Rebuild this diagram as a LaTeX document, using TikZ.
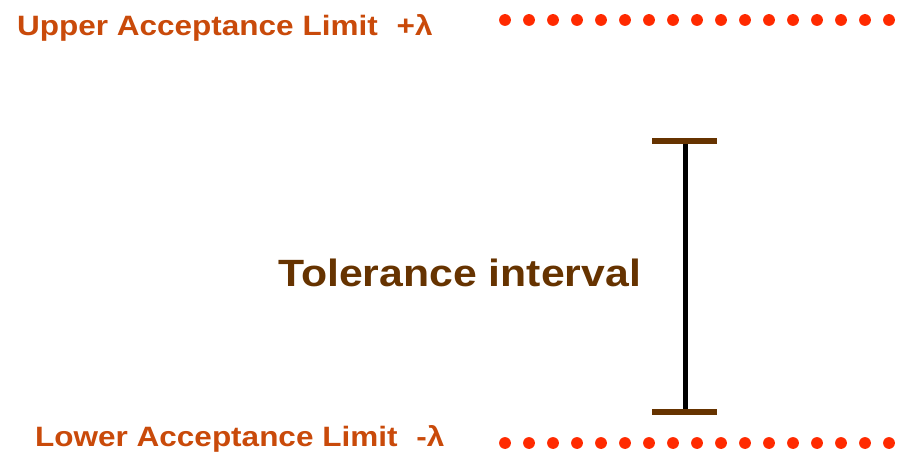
\documentclass[tikz,border=0pt]{standalone}
\usepackage{fontspec}
\setmainfont{Liberation Sans}
\definecolor{limittext}{HTML}{C94A0A}
\definecolor{dotred}{HTML}{FF2A00}
\definecolor{barbrown}{HTML}{663300}
\tikzset{
  widetext/.style={xscale=1.125, transform shape},
  limitlabel/.style={widetext, anchor=base west, inner sep=0pt, text=limittext, font=\bfseries\fontsize{28}{28}\selectfont},
  limitdot/.style={fill=dotred, draw=none},
  capbar/.style={draw=barbrown, line width=6pt},
  stem/.style={draw=black, line width=5pt}
}
\begin{document}
\begin{tikzpicture}[x=1pt,y=-1pt]
\useasboundingbox (0,0) rectangle (897,454);
% acceptance limit labels
\node[limitlabel] (upper) at (17,36) {Upper Acceptance Limit\hspace{0.6em}+λ};
\node[limitlabel] (lower) at (35,446) {Lower Acceptance Limit\hspace{0.6em}-λ};
% dotted limit lines
\foreach \i in {0,...,16} {
  \fill[limitdot] ({505+24*\i},20) circle (5.9);
  \fill[limitdot] ({505+24*\i},443) circle (5.9);
}
% interval bracket
\coordinate (top) at (685,141);
\coordinate (bot) at (685,412);
\draw[stem] (top) -- (bot);
\draw[capbar] (652,141) -- (717,141);
\draw[capbar] (652,412) -- (717,412);
% interval label
\node[widetext, anchor=base west, inner sep=0pt, text=barbrown, font=\bfseries\fontsize{38}{38}\selectfont] (tol) at (278,287) {Tolerance interval};
\end{tikzpicture}
\end{document}
